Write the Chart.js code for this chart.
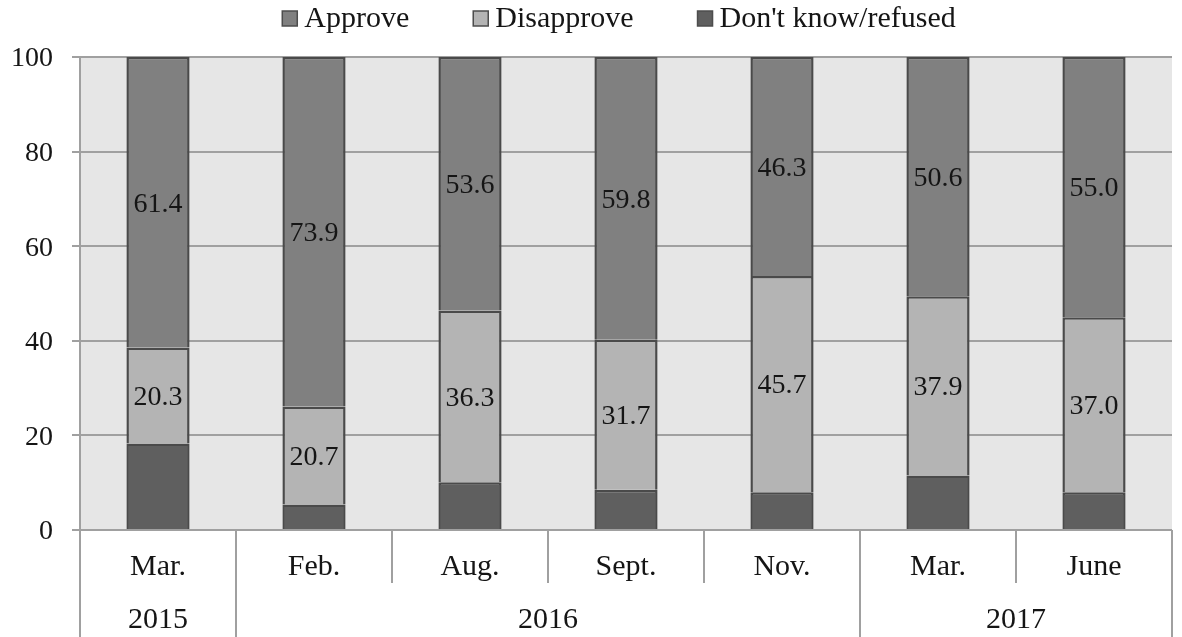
<!DOCTYPE html>
<html>
<head>
<meta charset="utf-8">
<script src="https://cdn.jsdelivr.net/npm/chart.js@4"></script>
<style>
  html, body { margin: 0; padding: 0; background: #fff; }
  #wrap { width: 1182px; height: 637px; position: relative; }
</style>
</head>
<body>
<div id="wrap"><canvas id="chart"></canvas></div>
<script>
// survey waves
const categories = ['Mar.', 'Feb.', 'Aug.', 'Sept.', 'Nov.', 'Mar.', 'June'];
const years = ['2015', '2016', '2016', '2016', '2016', '2017', '2017'];

// shares in percent
const approve = [61.4, 73.9, 53.6, 59.8, 46.3, 50.6, 55.0];
const disapprove = [20.3, 20.7, 36.3, 31.7, 45.7, 37.9, 37.0];
const dontKnow = [18.3, 5.4, 10.1, 8.5, 8.0, 11.5, 8.0];

const FONT = "'Liberation Serif', 'Times New Roman', serif";
const GRID = '#a0a0a0';
const TEXT = '#151515';

// grey plot background
const plotBg = {
  id: 'plotBg',
  beforeDraw(chart) {
    const { ctx, chartArea: a } = chart;
    ctx.save();
    ctx.fillStyle = '#e6e6e6';
    ctx.fillRect(a.left, a.top, a.right - a.left, a.bottom - a.top);
    ctx.restore();
  }
};

// numbers inside the approve / disapprove segments
const barLabels = {
  id: 'barLabels',
  afterDatasetsDraw(chart) {
    const ctx = chart.ctx;
    ctx.save();
    ctx.font = '28px ' + FONT;
    ctx.fillStyle = TEXT;
    ctx.textAlign = 'center';
    ctx.textBaseline = 'middle';
    chart.data.datasets.forEach((ds, i) => {
      if (!ds.showValues) return;
      chart.getDatasetMeta(i).data.forEach((bar, j) => {
        ctx.fillText(ds.data[j].toFixed(1), bar.x, (bar.y + bar.base) / 2 + 2);
      });
    });
    ctx.restore();
  }
};

// two-level category axis: separators + year row
const yearAxis = {
  id: 'yearAxis',
  afterDraw(chart) {
    const { ctx, chartArea: a, scales: { x } } = chart;
    const n = categories.length;
    const edges = [];
    for (let i = 0; i <= n; i++) {
      if (i === 0) edges.push(a.left);
      else if (i === n) edges.push(a.right);
      else edges.push((x.getPixelForValue(i - 1) + x.getPixelForValue(i)) / 2);
    }
    ctx.save();
    ctx.strokeStyle = GRID;
    ctx.lineWidth = 2;
    for (let i = 0; i <= n; i++) {
      const isYear = i === 0 || i === n || years[i] !== years[i - 1];
      ctx.beginPath();
      ctx.moveTo(edges[i], a.bottom);
      ctx.lineTo(edges[i], isYear ? chart.height : x.bottom);
      ctx.stroke();
    }
    ctx.font = '30px ' + FONT;
    ctx.fillStyle = TEXT;
    ctx.textAlign = 'center';
    ctx.textBaseline = 'alphabetic';
    let start = 0;
    for (let i = 1; i <= n; i++) {
      if (i === n || years[i] !== years[start]) {
        ctx.fillText(years[start], (edges[start] + edges[i]) / 2, 628);
        start = i;
      }
    }
    ctx.restore();
  }
};

// legend along the top
const topLegend = {
  id: 'topLegend',
  afterDraw(chart) {
    const { ctx, chartArea: a } = chart;
    const items = chart.data.datasets.slice().reverse();
    const box = 15, gap = 7, space = 64;
    ctx.save();
    ctx.font = '30px ' + FONT;
    const widths = items.map(ds => ctx.measureText(ds.label).width);
    let total = 0;
    widths.forEach((w, i) => { total += box + gap + w + (i ? space : 0); });
    let xPos = (a.left + a.right) / 2 - 7 - total / 2;
    items.forEach((ds, i) => {
      ctx.fillStyle = ds.backgroundColor;
      ctx.fillRect(xPos, 11, box, box);
      ctx.strokeStyle = '#4d4d4d';
      ctx.lineWidth = 1.5;
      ctx.strokeRect(xPos, 11, box, box);
      ctx.fillStyle = TEXT;
      ctx.textBaseline = 'alphabetic';
      ctx.fillText(ds.label, xPos + box + gap, 27);
      xPos += box + gap + widths[i] + space;
    });
    ctx.restore();
  }
};

const barStyle = {
  borderColor: '#4a4a4a',
  borderWidth: 2.5,
  borderSkipped: 'start',
  barPercentage: 0.405,
  categoryPercentage: 1
};

new Chart(document.getElementById('chart'), {
  type: 'bar',
  data: {
    labels: categories,
    datasets: [
      Object.assign({ label: "Don't know/refused", data: dontKnow, backgroundColor: '#5f5f5f', showValues: false }, barStyle),
      Object.assign({ label: 'Disapprove', data: disapprove, backgroundColor: '#b4b4b4', showValues: true }, barStyle),
      Object.assign({ label: 'Approve', data: approve, backgroundColor: '#808080', showValues: true }, barStyle)
    ]
  },
  options: {
    responsive: true,
    maintainAspectRatio: false,
    animation: false,
    layout: { padding: { top: 57, right: 10, bottom: 54, left: 0 } },
    plugins: {
      legend: { display: false },
      tooltip: { enabled: false }
    },
    scales: {
      x: {
        stacked: true,
        grid: { display: false, drawTicks: false },
        border: { display: false },
        ticks: {
          font: { family: FONT, size: 30 },
          color: TEXT,
          padding: 19,
          maxRotation: 0,
          autoSkip: false
        },
        afterFit(s) { s.height = 53; }
      },
      y: {
        stacked: true,
        min: 0,
        max: 100,
        ticks: {
          stepSize: 20,
          padding: 19,
          labelOffset: 2,
          font: { family: FONT, size: 28 },
          color: TEXT
        },
        grid: { color: GRID, lineWidth: 2, tickLength: 8 },
        border: { color: GRID, width: 2 },
        afterFit(s) { s.width = 80; }
      }
    }
  },
  plugins: [plotBg, barLabels, yearAxis, topLegend]
});
</script>
</body>
</html>
